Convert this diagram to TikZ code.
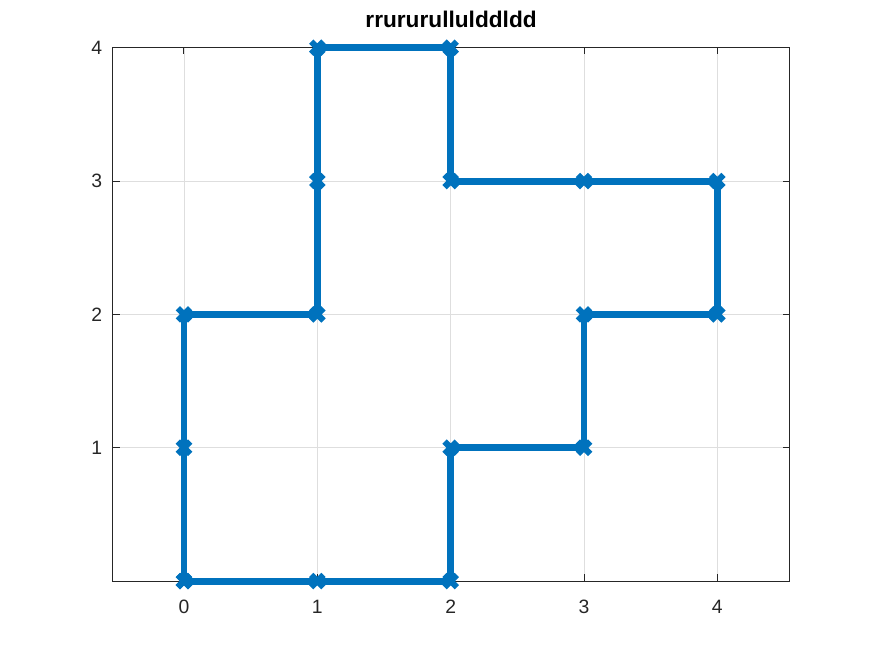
\documentclass[tikz,border=0pt]{standalone}
\usepackage{fontspec}
\setmainfont{Liberation Sans}
\usepackage{xcolor}
\definecolor{walkblue}{RGB}{0,114,189}
\usetikzlibrary{calc}

\begin{document}
\begin{tikzpicture}[x=100pt, y=100pt,
    gridline/.style={draw=black!13, line width=0.6pt},
    axisline/.style={draw=black!85, line width=0.75pt},
    walk/.style={draw=walkblue, line width=5.2pt, line join=miter},
    xmarker/.style={draw=walkblue, line width=4.6pt},
    ticklabel/.style={font=\fontsize{14.5}{16}\selectfont, text=black!85, inner sep=0pt}]
  \useasboundingbox (-1.38,-0.5475) rectangle (5.16,4.358);

  % grid
  \foreach \x in {0,...,4} \draw[gridline] (\x,0) -- (\x,4);
  \foreach \y in {1,...,3} \draw[gridline] (-0.533,\y) -- (4.539,\y);

  % axes box and ticks
  \draw[axisline] (-0.533,0) rectangle (4.539,4);
  \foreach \x in {0,...,4} {
    \draw[axisline] (\x,0) -- ++(0,0.05);
    \draw[axisline] (\x,4) -- ++(0,-0.05);
    \node[ticklabel] (xl\x) at (\x,-0.19) {\x};
  }
  \foreach \y in {1,...,4} {
    \draw[axisline] (-0.533,\y) -- ++(0.05,0);
    \draw[axisline] (4.539,\y) -- ++(-0.05,0);
    \node[ticklabel] (yl\y) at (-0.655,\y) {\y};
  }

  \node[font=\fontsize{17}{19}\selectfont\bfseries] (title) at (2.003,4.21) {rrururullulddldd};

  % the walk
  \foreach \px/\py [count=\i] in {0/0,1/0,2/0,2/1,3/1,3/2,4/2,4/3,3/3,2/3,2/4,1/4,1/3,1/2,0/2,0/1,0/0}
    \coordinate (p\i) at (\px,\py);
  \draw[walk] (p1) -- (p2) -- (p3) -- (p4) -- (p5) -- (p6) -- (p7) -- (p8) -- (p9)
    -- (p10) -- (p11) -- (p12) -- (p13) -- (p14) -- (p15) -- (p16) -- (p17);
  \foreach \i in {1,...,17}
    \draw[xmarker] (p\i) +(-0.046,-0.046) -- +(0.046,0.046) +(-0.046,0.046) -- +(0.046,-0.046);
\end{tikzpicture}
\end{document}
